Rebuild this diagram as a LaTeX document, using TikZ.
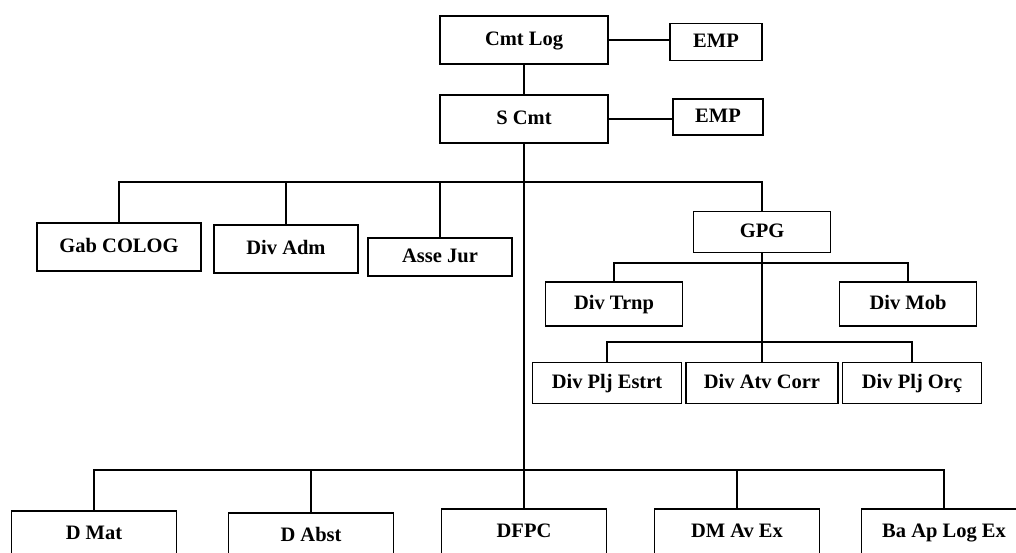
\documentclass[tikz,border=0pt]{standalone}
\usepackage{fontspec}
\setmainfont{Liberation Serif}
\usetikzlibrary{positioning,calc}

\begin{document}
\begin{tikzpicture}[x=1pt,y=-1pt]
\tikzstyle{block} = [rectangle, draw, line width=1.6pt, inner sep=0pt, text centered, text height=14pt, text depth=4pt, minimum width=144pt, minimum height=48pt, font=\fontsize{20.5}{23}\selectfont\bfseries]
\tikzstyle{small} = [block, minimum width=90pt, minimum height=37pt]
\tikzstyle{line} = [draw, line width=1.6pt]

\useasboundingbox (0,0) rectangle (1016,552);

% Command levels
\node [block, minimum width=168pt] (cmtLog) at (524,40) {Cmt Log};
\node [small, minimum width=92pt] (empOne) at (716,42) {EMP};
\node [block, minimum width=168pt] (sCmt) at (524,119) {S Cmt};
\node [small, minimum height=36pt] (empTwo) at (718,117) {EMP};

% First row
\node [block, minimum width=164pt] (gabColog) at (119,247) {Gab COLOG};
\node [block] (divAdm) at (286,249) {Div Adm};
\node [block, minimum height=38pt] (asseJur) at (440,257) {Asse Jur};
\node [block, minimum width=137pt, minimum height=41pt] (gpg) at (762,232) {GPG};

% Under GPG
\node [block, minimum width=137pt, minimum height=44pt] (divTrnp) at (614,304) {Div Trnp};
\node [block, minimum width=137pt, minimum height=44pt] (divMob) at (908,304) {Div Mob};
\node [block, minimum width=149pt, minimum height=41pt] (divPljEstrt) at (607,383) {Div Plj Estrt};
\node [block, minimum width=152pt, minimum height=41pt] (divAtvCorr) at (762,383) {Div Atv Corr};
\node [block, minimum width=139pt, minimum height=41pt] (divPljOrc) at (912,383) {Div Plj Orç};

% Bottom row
\node [block, minimum width=165pt, minimum height=46pt] (dMat) at (94,534) {D Mat};
\node [block, minimum width=165pt, minimum height=46pt] (dAbst) at (311,536) {D Abst};
\node [block, minimum width=165pt, minimum height=46pt] (dfpc) at (524,532) {DFPC};
\node [block, minimum width=165pt, minimum height=46pt] (dmAvEx) at (737,532) {DM Av Ex};
\node [block, minimum width=165pt, minimum height=46pt] (baApLogEx) at (944,532) {Ba Ap Log Ex};

\coordinate (topBus) at (524,182);
\coordinate (gpgBus) at (762,263);
\coordinate (lowBus) at (762,342);
\coordinate (bottomBus) at (524,470);

% Connections
\draw [line] (cmtLog.east) -- (empOne.west |- cmtLog.east);
\draw [line] (sCmt.east) -- (empTwo.west |- sCmt.east);
\draw [line] (cmtLog.south) -- (sCmt.north);
\draw [line] (sCmt.south) -- (dfpc.north);

\draw [line] (gabColog.north) |- (topBus) -| (gpg.north);
\draw [line] (divAdm.north) -- (divAdm.north |- topBus);
\draw [line] (asseJur.north) -- (asseJur.north |- topBus);

\draw [line] (gpg.south) -- (divAtvCorr.north);
\draw [line] (divTrnp.north) |- (gpgBus) -| (divMob.north);
\draw [line] (divPljEstrt.north) |- (lowBus) -| (divPljOrc.north);

\draw [line] (dMat.north) |- (bottomBus) -| (baApLogEx.north);
\draw [line] (dAbst.north) -- (dAbst.north |- bottomBus);
\draw [line] (dmAvEx.north) -- (dmAvEx.north |- bottomBus);

\end{tikzpicture}
\end{document}
